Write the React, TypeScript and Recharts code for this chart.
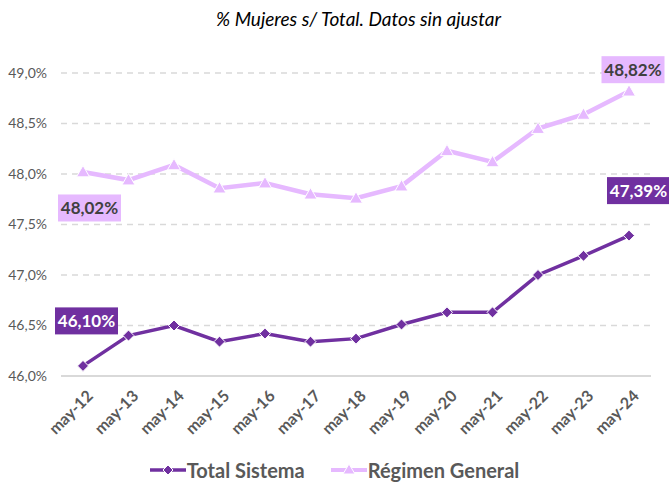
import { LineChart, Line, XAxis, YAxis, CartesianGrid, Legend, LabelList } from "recharts";

const categories = ["may-12", "may-13", "may-14", "may-15", "may-16", "may-17", "may-18", "may-19", "may-20", "may-21", "may-22", "may-23", "may-24"];
const totalSistema = [46.1, 46.4, 46.5, 46.34, 46.42, 46.34, 46.37, 46.51, 46.63, 46.63, 47.0, 47.19, 47.39];
const regimenGeneral = [48.02, 47.94, 48.09, 47.86, 47.91, 47.8, 47.76, 47.88, 48.23, 48.12, 48.45, 48.59, 48.82];
const yTicks = [46, 46.5, 47, 47.5, 48, 48.5, 49];

const DARK = "#7030A0";
const LIGHT = "#E6B9FF";
const GRAY = "#595959";
const FONT = "Lato, 'Open Sans', sans-serif";

const data = categories.map((c, i) => ({ name: c, total: totalSistema[i], regimen: regimenGeneral[i] }));

const pct = (v: number, d: number) => v.toFixed(d).replace(".", ",") + "%";

function XTick({ x, y, payload }: any) {
  return (
    <g transform={`translate(${x + 11},${y + 13})`}>
      <text textAnchor="end" transform="rotate(-45)" fill={GRAY} fontSize={16} fontWeight={700} fontFamily={FONT}>
        {payload.value}
      </text>
    </g>
  );
}

function Diamond({ cx, cy }: any) {
  if (cx == null || cy == null) return null;
  const r = 5.5;
  return <path d={`M${cx},${cy - r}L${cx + r},${cy}L${cx},${cy + r}L${cx - r},${cy}Z`} fill={DARK} stroke="#fff" strokeWidth={1} />;
}

function Triangle({ cx, cy }: any) {
  if (cx == null || cy == null) return null;
  const r = 6.5;
  return <path d={`M${cx},${cy - r}L${cx + r},${cy + r * 0.75}L${cx - r},${cy + r * 0.75}Z`} fill={LIGHT} stroke="#fff" strokeWidth={1} />;
}

function makeLabel(bg: string, fg: string, offsets: Record<number, [number, number]>) {
  return (props: any) => {
    const { x, y, value, index } = props;
    const off = offsets[index];
    if (!off) return null;
    const cx = x + off[0];
    const cy = y + off[1];
    const w = 63;
    const h = 27;
    return (
      <g>
        <rect x={cx - w / 2} y={cy - h / 2} width={w} height={h} fill={bg} />
        <text x={cx} y={cy} dy={6} textAnchor="middle" fill={fg} fontSize={17} fontWeight={700} fontFamily={FONT}>
          {pct(value, 2)}
        </text>
      </g>
    );
  };
}

function LegendContent() {
  const item = (label: string, color: string, marker: "d" | "t", w: number) => (
    <div style={{ display: "flex", alignItems: "center", marginRight: w }}>
      <svg width={36} height={14} style={{ marginRight: 1 }}>
        <line x1={0} y1={7} x2={36} y2={7} stroke={color} strokeWidth={marker === "d" ? 3.5 : 4} />
        {marker === "d" ? (
          <path d="M18,2L23,7L18,12L13,7Z" fill={color} stroke="#fff" strokeWidth={1} />
        ) : (
          <path d="M18,1L24,11L12,11Z" fill={color} stroke="#fff" strokeWidth={1} />
        )}
      </svg>
      <span style={{ color: GRAY, fontSize: 20, fontWeight: 700, fontFamily: FONT }}>{label}</span>
    </div>
  );
  return (
    <div style={{ display: "flex", justifyContent: "center", alignItems: "center", paddingLeft: 0 }}>
      {item("Total Sistema", DARK, "d", 26)}
      {item("Régimen General", LIGHT, "t", 0)}
    </div>
  );
}

export default function App() {
  return (
    <div style={{ position: "absolute", left: 0, top: 0, width: 669, height: 484, background: "#fff" }}>
      <div
        style={{
          position: "absolute",
          top: 7,
          left: 0,
          width: 669,
          textAlign: "center",
          paddingLeft: 48,
          boxSizing: "border-box",
          fontFamily: FONT,
          fontStyle: "italic",
          fontSize: 19,
          color: "#000",
        }}
      >
        % Mujeres s/ Total. Datos sin ajustar
      </div>
      <LineChart width={669} height={484} data={data} margin={{ top: 73, right: 18, bottom: 24, left: 0 }}>
        <CartesianGrid vertical={false} stroke="#D9D9D9" strokeDasharray="6 5" strokeWidth={1.5} />
        <XAxis
          dataKey="name"
          interval={0}
          height={60}
          padding={{ left: 22, right: 22 }}
          axisLine={{ stroke: "#D9D9D9", strokeWidth: 2 }}
          tickLine={false}
          tick={<XTick />}
        />
        <YAxis
          domain={[46, 49]}
          ticks={yTicks}
          width={61}
          axisLine={false}
          tickLine={false}
          tickMargin={8}
          tickFormatter={(v: number) => pct(v, 1)}
          tick={{ fill: GRAY, fontSize: 14, fontFamily: FONT }}
        />
        <Legend content={<LegendContent />} wrapperStyle={{ top: 458, left: 0, width: 669 }} />
        <Line
          dataKey="regimen"
          name="Régimen General"
          stroke={LIGHT}
          strokeWidth={4.5}
          dot={<Triangle />}
          activeDot={false}
          isAnimationActive={false}
        >
          <LabelList dataKey="regimen" content={makeLabel(LIGHT, "#404040", { 0: [6.5, 36], 12: [4, -21.5] })} />
        </Line>
        <Line
          dataKey="total"
          name="Total Sistema"
          stroke={DARK}
          strokeWidth={3.5}
          dot={<Diamond />}
          activeDot={false}
          isAnimationActive={false}
        >
          <LabelList dataKey="total" content={makeLabel(DARK, "#fff", { 0: [3.5, -45], 12: [9.5, -45] })} />
        </Line>
      </LineChart>
    </div>
  );
}
